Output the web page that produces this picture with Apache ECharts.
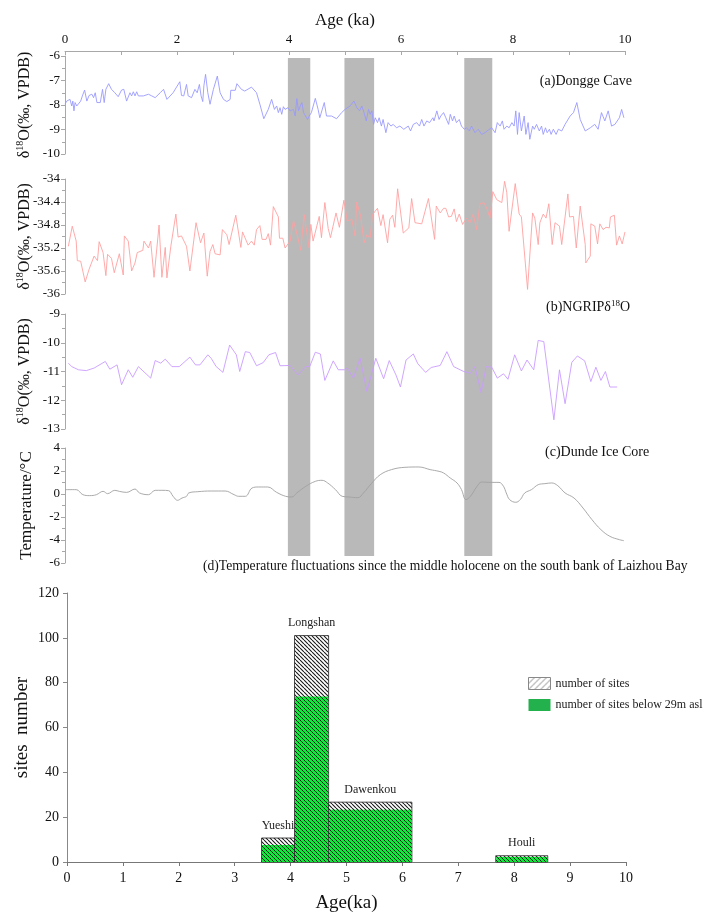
<!DOCTYPE html>
<html>
<head>
<meta charset="utf-8">
<script src="https://cdn.jsdelivr.net/npm/echarts@6/dist/echarts.min.js"></script>
<style>
  html, body { margin: 0; padding: 0; background: #fff; }
  #chart { width: 706px; height: 914px; }
</style>
</head>
<body>
<div id="chart"></div>
<script>
// (a) Dongge Cave d18O, [age ka, value]
const dongge = [[0.00,-7.97],[0.03,-7.84],[0.06,-7.90],[0.09,-7.77],[0.12,-8.04],[0.14,-7.84],[0.16,-8.24],[0.18,-7.90],[0.21,-8.04],[0.24,-8.01],[0.28,-7.84],[0.31,-7.63],[0.35,-7.39],[0.39,-7.84],[0.43,-7.61],[0.48,-7.56],[0.51,-7.70],[0.54,-7.50],[0.57,-7.90],[0.63,-7.90],[0.65,-7.84],[0.67,-7.36],[0.70,-7.90],[0.73,-7.36],[0.78,-7.13],[0.83,-7.36],[0.89,-7.50],[0.95,-7.66],[1.01,-7.39],[1.05,-7.36],[1.10,-7.84],[1.16,-7.50],[1.19,-7.63],[1.22,-7.46],[1.25,-7.63],[1.28,-7.46],[1.31,-7.63],[1.34,-7.66],[1.40,-7.63],[1.49,-7.56],[1.55,-7.63],[1.61,-7.70],[1.70,-7.50],[1.76,-7.36],[1.82,-7.77],[1.93,-7.50],[2.05,-7.05],[2.08,-7.61],[2.12,-7.63],[2.17,-7.16],[2.20,-7.63],[2.23,-7.56],[2.26,-7.70],[2.32,-7.36],[2.36,-7.50],[2.40,-7.16],[2.43,-7.63],[2.46,-7.86],[2.48,-7.22],[2.51,-6.75],[2.55,-7.50],[2.59,-7.97],[2.65,-7.36],[2.72,-6.82],[2.77,-7.50],[2.83,-7.77],[2.89,-7.86],[2.95,-7.77],[2.96,-7.40],[3.04,-7.40],[3.07,-7.13],[3.15,-7.36],[3.21,-7.43],[3.33,-7.27],[3.42,-7.50],[3.48,-7.97],[3.55,-8.56],[3.63,-8.18],[3.69,-7.77],[3.74,-8.18],[3.78,-8.04],[3.81,-8.31],[3.84,-8.11],[3.87,-8.38],[3.90,-8.07],[3.93,-8.18],[3.98,-8.11],[4.02,-8.24],[4.05,-8.31],[4.08,-8.18],[4.11,-8.45],[4.14,-7.74],[4.17,-8.24],[4.20,-8.04],[4.23,-7.90],[4.26,-8.31],[4.29,-8.24],[4.33,-8.59],[4.36,-8.45],[4.40,-8.31],[4.47,-7.73],[4.52,-8.18],[4.55,-8.52],[4.63,-7.90],[4.67,-8.45],[4.76,-8.45],[4.85,-8.56],[4.94,-8.31],
  [5.00,-8.18],[5.09,-8.04],[5.16,-7.84],[5.21,-8.11],[5.26,-8.24],[5.30,-8.04],[5.34,-8.31],[5.38,-8.65],[5.42,-8.18],[5.45,-8.38],[5.48,-8.24],[5.51,-8.79],[5.54,-8.52],[5.58,-8.72],[5.61,-8.52],[5.65,-8.86],[5.68,-8.59],[5.73,-9.13],[5.77,-8.72],[5.82,-8.86],[5.86,-8.79],[5.92,-8.93],[5.98,-8.86],[6.05,-8.99],[6.13,-8.86],[6.17,-9.06],[6.22,-8.79],[6.28,-8.72],[6.33,-8.86],[6.37,-8.59],[6.41,-8.86],[6.46,-8.65],[6.51,-8.72],[6.57,-8.52],[6.59,-8.65],[6.64,-8.24],[6.68,-8.59],[6.71,-8.45],[6.76,-8.31],[6.80,-8.52],[6.85,-8.79],[6.88,-8.38],[6.92,-8.65],[6.95,-8.45],[6.99,-8.72],[7.04,-8.59],[7.08,-8.86],[7.13,-8.99],[7.17,-8.93],[7.22,-9.06],[7.26,-8.86],[7.32,-9.13],[7.38,-8.99],[7.44,-9.20],[7.50,-9.13],[7.56,-9.02],[7.62,-8.93],[7.68,-9.13],[7.72,-8.72],[7.77,-8.86],[7.81,-8.65],[7.84,-8.99],[7.89,-8.86],[7.93,-8.93],[7.98,-8.72],[8.02,-8.86],[8.05,-8.24],[8.08,-9.20],[8.11,-8.31],[8.15,-9.06],[8.20,-8.45],[8.23,-9.20],[8.27,-8.72],[8.30,-9.40],[8.35,-8.86],[8.38,-8.99],[8.42,-8.79],[8.47,-9.06],[8.51,-8.86],[8.54,-9.20],[8.58,-8.93],[8.61,-9.13],[8.65,-8.99],[8.68,-9.20],[8.72,-8.99],[8.77,-9.20],[8.81,-8.99],[8.87,-9.06],[8.93,-8.79],[9.02,-8.45],[9.08,-8.31],[9.14,-7.90],[9.20,-8.59],[9.29,-9.06],[9.38,-8.93],[9.46,-8.79],[9.52,-8.99],[9.58,-8.31],[9.64,-8.65],[9.70,-8.24],[9.76,-8.86],[9.82,-8.79],[9.90,-8.52],[9.94,-8.18],[9.98,-8.52]];

// (b) NGRIP d18O
const ngrip = [[0.06,-35.17],[0.13,-34.82],[0.20,-35.08],[0.22,-35.42],[0.28,-35.43],[0.36,-35.79],[0.43,-35.57],[0.52,-35.34],[0.58,-35.42],[0.61,-35.09],[0.68,-35.28],[0.73,-35.68],[0.76,-35.31],[0.83,-35.38],[0.88,-35.63],[0.97,-35.30],[1.04,-35.67],[1.06,-34.99],[1.13,-35.08],[1.19,-35.60],[1.25,-35.46],[1.29,-35.28],[1.39,-35.24],[1.41,-35.08],[1.49,-35.20],[1.53,-35.08],[1.59,-35.71],[1.68,-34.80],[1.73,-35.71],[1.79,-35.19],[1.82,-35.72],[1.89,-35.17],[1.98,-34.61],[2.02,-35.01],[2.08,-34.99],[2.17,-35.17],[2.23,-35.60],[2.34,-34.76],[2.42,-35.11],[2.48,-34.94],[2.54,-35.69],[2.59,-35.26],[2.64,-35.14],[2.68,-35.30],[2.77,-35.32],[2.81,-34.88],[2.89,-34.97],[2.93,-35.14],[3.05,-34.63],[3.14,-35.19],[3.17,-34.92],[3.27,-35.15],[3.33,-35.08],[3.38,-35.15],[3.42,-34.88],[3.48,-34.81],[3.52,-35.05],[3.59,-35.05],[3.63,-34.95],[3.67,-35.15],[3.72,-34.48],[3.81,-34.66],[3.83,-35.03],[3.89,-35.03],[3.93,-35.20],[4.02,-35.08],[4.08,-34.72],[4.15,-34.99],[4.21,-35.24],[4.27,-34.62],[4.36,-35.20],[4.39,-34.79],[4.43,-35.08],[4.54,-34.65],[4.58,-35.02],[4.64,-34.41],[4.70,-34.86],[4.74,-35.02],[4.84,-34.59],[4.90,-34.84],[4.98,-34.37],
  [5.04,-34.73],[5.12,-34.70],[5.18,-34.99],[5.21,-34.40],[5.28,-34.65],[5.34,-35.11],[5.39,-34.97],[5.45,-35.02],[5.49,-34.62],[5.58,-34.51],[5.64,-34.81],[5.68,-34.62],[5.76,-35.11],[5.80,-34.70],[5.85,-34.63],[5.89,-34.84],[5.94,-34.17],[6.04,-34.94],[6.14,-34.85],[6.19,-34.34],[6.25,-34.76],[6.37,-34.78],[6.49,-34.34],[6.60,-35.05],[6.63,-34.47],[6.70,-34.59],[6.76,-34.51],[6.80,-34.51],[6.85,-34.66],[6.90,-34.65],[6.95,-34.52],[6.99,-34.74],[7.04,-34.61],[7.10,-34.79],[7.17,-34.68],[7.23,-34.76],[7.29,-34.61],[7.35,-34.88],[7.41,-34.43],[7.48,-34.41],[7.54,-34.53],[7.59,-34.68],[7.64,-34.22],[7.71,-34.36],[7.80,-34.41],[7.85,-34.04],[7.89,-34.24],[7.93,-34.91],[8.04,-34.08],[8.11,-34.61],[8.15,-34.66],[8.26,-35.92],[8.35,-34.59],[8.39,-34.68],[8.45,-35.14],[8.48,-34.76],[8.54,-34.61],[8.59,-34.68],[8.64,-34.43],[8.70,-35.14],[8.75,-34.76],[8.83,-34.82],[8.87,-35.14],[8.98,-34.26],[9.01,-34.66],[9.08,-34.65],[9.13,-35.20],[9.20,-34.47],[9.29,-35.14],[9.30,-35.46],[9.38,-35.34],[9.39,-34.78],[9.46,-34.82],[9.51,-35.13],[9.55,-34.78],[9.61,-34.88],[9.66,-34.84],[9.72,-34.85],[9.74,-34.66],[9.81,-34.63],[9.85,-35.15],[9.90,-34.99],[9.95,-35.13],[10.00,-34.92]];

// (c) Dunde ice core d18O
const dunde = [[0.06,-10.71],[0.12,-10.83],[0.24,-10.94],[0.38,-10.97],[0.52,-10.88],[0.72,-10.65],[0.80,-10.92],[0.93,-10.77],[1.01,-11.46],[1.13,-10.94],[1.21,-11.20],[1.31,-10.83],[1.53,-11.23],[1.61,-10.62],[1.71,-10.71],[1.79,-10.57],[1.91,-10.83],[2.04,-10.83],[2.23,-10.50],[2.33,-10.77],[2.41,-10.77],[2.55,-10.42],[2.61,-10.54],[2.70,-10.83],[2.82,-11.03],[2.94,-10.08],[3.06,-10.42],[3.12,-11.00],[3.22,-10.31],[3.30,-10.34],[3.42,-10.80],[3.54,-10.69],[3.64,-10.42],[3.76,-10.34],[3.84,-10.80],[4.02,-10.79],[4.16,-11.12],[4.30,-10.83],[4.37,-10.83],[4.47,-10.33],[4.56,-10.39],[4.64,-11.31],[4.79,-10.63],[4.88,-10.94],[4.99,-10.94],[5.04,-10.88],[5.15,-11.23],[5.27,-10.54],[5.39,-11.69],[5.55,-10.54],[5.69,-11.25],[5.79,-10.62],[5.91,-11.12],[5.99,-11.54],[6.09,-10.60],[6.22,-10.39],[6.30,-10.73],[6.44,-11.03],[6.54,-10.86],[6.70,-10.79],[6.82,-10.31],[6.94,-10.83],[7.12,-11.00],[7.24,-11.06],[7.32,-10.83],[7.43,-11.73],[7.52,-10.83],[7.62,-10.85],[7.72,-11.23],[7.83,-11.08],[7.91,-11.27],[8.03,-10.42],[8.15,-10.98],[8.25,-10.60],[8.37,-10.94],[8.45,-9.92],[8.55,-9.96],[8.73,-12.68],[8.83,-10.94],[8.93,-12.12],[9.05,-10.68],[9.15,-10.46],[9.28,-10.63],[9.39,-11.35],[9.48,-10.85],[9.57,-11.31],[9.65,-11.00],[9.73,-11.54],[9.86,-11.54]];

// (d) Laizhou Bay temperature anomaly
const temperature = [[0.00,0.38],[0.20,0.38],[0.32,-0.06],[0.44,-0.14],[0.56,-0.06],[0.68,0.23],[0.76,0.03],[0.89,0.32],[0.97,0.23],[1.10,0.14],[1.25,0.43],[1.33,0.09],[1.49,-0.06],[1.61,0.32],[1.73,0.32],[1.85,0.29],[1.93,-0.20],[2.01,-0.55],[2.09,-0.35],[2.17,-0.20],[2.21,0.09],[2.37,0.20],[2.61,0.26],[2.86,0.26],[3.02,-0.06],[3.10,-0.20],[3.22,-0.20],[3.34,0.52],[3.46,0.61],[3.62,0.61],[3.78,0.14],[3.94,-0.20],[4.05,-0.26],[4.14,0.09],[4.30,0.67],[4.47,1.10],[4.59,1.19],[4.69,0.96],[4.83,0.38],[4.95,-0.20],[5.07,-0.26],[5.23,-0.32],[5.33,0.09],[5.47,0.90],[5.63,1.68],[5.83,2.12],[6.07,2.32],[6.32,2.35],[6.52,2.12],[6.68,1.97],[6.76,1.83],[6.88,1.39],[7.00,0.96],[7.08,0.38],[7.16,-0.49],[7.24,-0.20],[7.35,0.61],[7.44,1.04],[7.60,1.01],[7.75,1.01],[7.83,0.67],[7.88,0.09],[7.94,-0.49],[8.05,-0.72],[8.13,-0.49],[8.21,0.09],[8.33,0.38],[8.45,0.81],[8.57,0.90],[8.69,0.96],[8.80,0.72],[8.93,0.09],[9.09,-0.35],[9.25,-1.22],[9.41,-2.23],[9.57,-3.10],[9.73,-3.68],[9.90,-3.97],[9.98,-4.06]];

// cold events (gray bands), [from ka, to ka]
const coldEvents = [[3.98, 4.38], [4.99, 5.52], [7.13, 7.63]];

// archaeological cultures
const cultures = ["Yueshi", "Longshan", "Dawenkou", "Houli"];
const periodStart = [3.48, 4.07, 4.68, 7.67];
const periodEnd = [4.07, 4.68, 6.17, 8.60];
const totalSites = [10.7, 101, 26.7, 2.8];
const lowSites = [7.6, 73.8, 23.3, 2.2];

const serif = "Liberation Serif";
const axisGray = "#a8a8a8";

// diagonal hatch fill
const hatch = (bg, ink, size, width, slash) => {
  const c = document.createElement("canvas");
  c.width = c.height = size;
  const g = c.getContext("2d");
  g.fillStyle = bg;
  g.fillRect(0, 0, size, size);
  g.strokeStyle = ink;
  g.lineWidth = width;
  g.beginPath();
  for (let k = -1; k <= 1; k++) {
    if (slash) {
      g.moveTo(k * size, size);
      g.lineTo(k * size + size, 0);
    } else {
      g.moveTo(k * size, 0);
      g.lineTo(k * size + size, size);
    }
  }
  g.stroke();
  return { image: c, repeat: "repeat" };
};
const whiteHatch = hatch("#ffffff", "#1a1a1a", 4, 1.1, false);
const greenHatch = hatch("#10e83c", "#111111", 4, 0.9, false);
const legendHatch = hatch("#ffffff", "#8a8a8a", 6, 1, true);

const supName = (before, after, size) => ({
  text: `{d|${before}}{s|18}{d|${after}}`,
  rich: {
    d: { fontFamily: serif, fontSize: size, lineHeight: size + 4, color: "#111" },
    s: { fontFamily: serif, fontSize: Math.round(size * 0.6), lineHeight: Math.round(size * 0.7), verticalAlign: "top", color: "#111" }
  }
});

const yAxisFor = (gridIndex, min, max, interval, name, rich, size) => ({
  type: "value",
  gridIndex,
  min,
  max,
  interval,
  name,
  nameLocation: "middle",
  nameRotate: 90,
  nameGap: 30,
  nameMoveOverlap: false,
  nameTextStyle: { fontFamily: serif, fontSize: size, color: "#111", rich },
  axisLine: { show: true, lineStyle: { color: axisGray } },
  axisTick: { show: true, length: 4, lineStyle: { color: axisGray } },
  minorTick: { show: true, splitNumber: 2, length: 3, lineStyle: { color: axisGray } },
  splitLine: { show: false },
  axisLabel: { fontFamily: serif, fontSize: 13, color: "#111", margin: 5 }
});

const hiddenX = gridIndex => ({ type: "value", gridIndex, min: 0, max: 10, show: false });

const lineSeries = (idx, data, color, smooth) => ({
  type: "line",
  xAxisIndex: idx,
  yAxisIndex: idx,
  data,
  symbol: "none",
  smooth: smooth || false,
  lineStyle: { color, width: 0.9 },
  z: 3,
  silent: true
});

const yName = supName("δ", "O(‰, VPDB)", 16);

const barSeries = (name, values, fill, isTotal) => ({
  type: "custom",
  name,
  xAxisIndex: 5,
  yAxisIndex: 5,
  itemStyle: { color: fill },
  z: isTotal ? 2 : 3,
  data: cultures.map((c, i) => [periodStart[i], periodEnd[i], values[i]]),
  renderItem(params, api) {
    const a = api.coord([api.value(0), api.value(2)]);
    const b = api.coord([api.value(1), 0]);
    const inset = isTotal ? 0 : 0.5;
    const el = {
      type: "rect",
      shape: { x: a[0] + inset, y: a[1], width: b[0] - a[0] - inset * 2, height: b[1] - a[1] },
      style: isTotal ? { fill, stroke: "#222", lineWidth: 0.8 } : { fill }
    };
    if (isTotal) {
      el.textContent = {
        style: { text: cultures[params.dataIndex], fontFamily: serif, fontSize: 12, fill: "#222" }
      };
      el.textConfig = { position: "top", distance: 6 };
    }
    return el;
  }
});

const chart = echarts.init(document.getElementById("chart"));
chart.setOption({
  animation: false,
  backgroundColor: "#fff",
  grid: [
    { left: 65, width: 560, top: 56, height: 98 },
    { left: 65, width: 560, top: 179, height: 115 },
    { left: 65, width: 560, top: 314, height: 115 },
    { left: 65, width: 560, top: 448, height: 115 },
    { left: 65, width: 560, top: 58, height: 498 },
    { left: 67, width: 559, top: 593, height: 269 }
  ],
  xAxis: [
    {
      type: "value",
      gridIndex: 0,
      position: "top",
      offset: 5,
      min: 0,
      max: 10,
      interval: 2,
      name: "Age (ka)",
      nameLocation: "middle",
      nameGap: 22,
      nameTextStyle: { fontFamily: serif, fontSize: 17, color: "#111" },
      axisLine: { lineStyle: { color: axisGray } },
      axisTick: { inside: true, length: 4, lineStyle: { color: axisGray } },
      minorTick: { show: true, splitNumber: 2, length: 4, lineStyle: { color: axisGray } },
      splitLine: { show: false },
      axisLabel: { fontFamily: serif, fontSize: 13, color: "#111", margin: 5 }
    },
    hiddenX(1),
    hiddenX(2),
    hiddenX(3),
    hiddenX(4),
    {
      type: "value",
      gridIndex: 5,
      min: 0,
      max: 10,
      interval: 1,
      name: "Age(ka)",
      nameLocation: "middle",
      nameGap: 32,
      nameTextStyle: { fontFamily: serif, fontSize: 19, color: "#111" },
      axisLine: { lineStyle: { color: "#777" } },
      axisTick: { length: 4, lineStyle: { color: "#777" } },
      splitLine: { show: false },
      axisLabel: { fontFamily: serif, fontSize: 14, color: "#111", margin: 9 }
    }
  ],
  yAxis: [
    yAxisFor(0, -10, -6, 1, yName.text, yName.rich, 16),
    yAxisFor(1, -36, -34, 0.4, yName.text, yName.rich, 16),
    yAxisFor(2, -13, -9, 1, yName.text, yName.rich, 16),
    yAxisFor(3, -6, 4, 2, "Temperature/°C", null, 17),
    { type: "value", gridIndex: 4, min: 0, max: 1, show: false },
    {
      type: "value",
      gridIndex: 5,
      min: 0,
      max: 120,
      interval: 20,
      name: "sites  number",
      nameLocation: "middle",
      nameRotate: 90,
      nameGap: 35,
      nameMoveOverlap: false,
      nameTextStyle: { fontFamily: serif, fontSize: 19, color: "#111" },
      axisLine: { show: true, lineStyle: { color: "#888" } },
      axisTick: { show: true, length: 4, lineStyle: { color: "#888" } },
      splitLine: { show: false },
      axisLabel: { fontFamily: serif, fontSize: 14, color: "#111", margin: 8 }
    }
  ],
  legend: {
    left: 523,
    top: 672,
    orient: "vertical",
    icon: "rect",
    itemWidth: 22,
    itemHeight: 12,
    itemGap: 9,
    textStyle: { fontFamily: serif, fontSize: 12, color: "#222" },
    data: [
      { name: "number of sites", itemStyle: { color: legendHatch, borderColor: "#888", borderWidth: 1 } },
      { name: "number of sites below 29m asl", itemStyle: { color: "#22b14c" } }
    ]
  },
  graphic: [
    { type: "text", right: 74, top: 74, style: { text: "(a)Dongge Cave", fontFamily: serif, fontSize: 14, fill: "#111" } },
    {
      type: "text", left: 546, top: 299,
      style: {
        text: "{n|(b)NGRIPδ}{s|18}{n|O}",
        rich: {
          n: { fontFamily: serif, fontSize: 14, lineHeight: 17, fill: "#111" },
          s: { fontFamily: serif, fontSize: 9, lineHeight: 10, verticalAlign: "top", fill: "#111" }
        }
      }
    },
    { type: "text", left: 545, top: 445, style: { text: "(c)Dunde Ice Core", fontFamily: serif, fontSize: 14, fill: "#111" } },
    { type: "text", left: 203, top: 559, style: { text: "(d)Temperature fluctuations since the middle holocene on the south bank of Laizhou Bay", fontFamily: serif, fontSize: 13.6, fill: "#111" } }
  ],
  series: [
    {
      type: "custom",
      xAxisIndex: 4,
      yAxisIndex: 4,
      z: 1,
      silent: true,
      data: coldEvents,
      renderItem(params, api) {
        const a = api.coord([api.value(0), 1]);
        const b = api.coord([api.value(1), 0]);
        return {
          type: "rect",
          shape: { x: a[0], y: a[1], width: b[0] - a[0], height: b[1] - a[1] },
          style: { fill: "#b9b9b9" }
        };
      }
    },
    lineSeries(0, dongge, "#9a9aff"),
    lineSeries(1, ngrip, "#ffa0a0"),
    lineSeries(2, dunde, "#c99cff"),
    lineSeries(3, temperature, "#a0a0a0", 0.4),
    barSeries("number of sites", totalSites, whiteHatch, true),
    barSeries("number of sites below 29m asl", lowSites, greenHatch, false)
  ]
});
</script>
</body>
</html>
